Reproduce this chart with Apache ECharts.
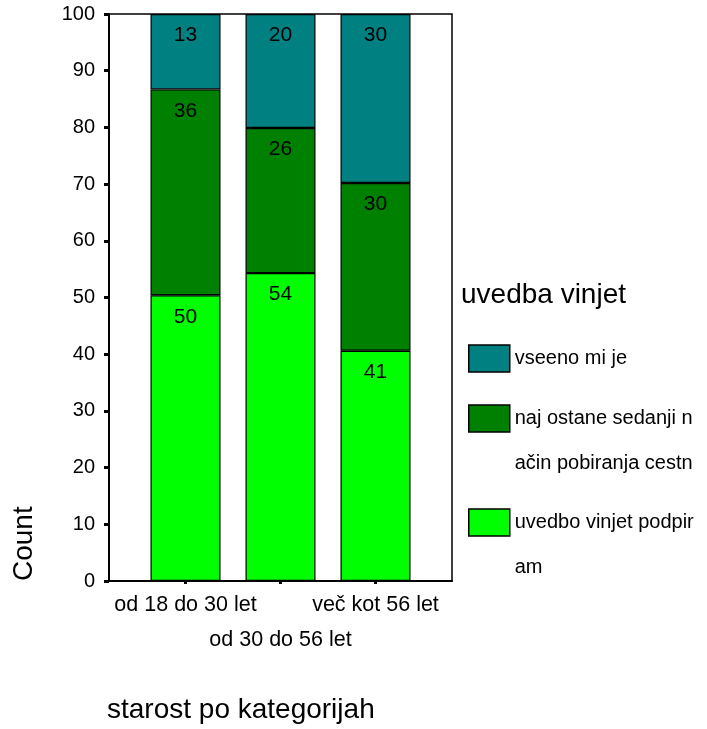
<!DOCTYPE html>
<html>
<head>
<meta charset="utf-8">
<script src="https://cdn.jsdelivr.net/npm/echarts@6/dist/echarts.min.js"></script>
<style>
  html, body { margin: 0; padding: 0; background: #fff; }
  #chart { width: 707px; height: 729px; }
</style>
</head>
<body>
<div id="chart"></div>
<script>
// starost po kategorijah -> deleži (%)
var categories = ['od 18 do 30 let', 'od 30 do 56 let', 'več kot 56 let'];
var podpiram = [50.4, 54.3, 40.6];   // uvedbo vinjet podpiram
var sedanji = [36.3, 25.6, 29.6];    // naj ostane sedanji način
var vseeno = [13.3, 20.1, 29.8];     // vseeno mi je
var yTicks = [0, 10, 20, 30, 40, 50, 60, 70, 80, 90, 100];

var names = ['vseeno mi je', 'naj ostane sedanji način pobiranja cestnine', 'uvedbo vinjet podpiram'];
var legendText = ['vseeno mi je', 'naj ostane sedanji n\način pobiranja cestn', 'uvedbo vinjet podpir\nam'];
var colors = ['#008080', '#008000', '#00ff00'];

var font = 'Liberation Sans, Arial, sans-serif';
var myChart = echarts.init(document.getElementById('chart'));

function barSeries(name, data, color) {
    return {
        name: name,
        type: 'bar',
        stack: 'vse',
        xAxisIndex: 1,
        yAxisIndex: 1,
        barWidth: 70,
        data: data,
        itemStyle: { color: color, borderColor: '#000', borderWidth: 1.2 },
        label: {
            show: true,
            position: 'insideTop',
            distance: 11,
            color: '#000',
            fontFamily: font,
            fontSize: 21,
            formatter: function (p) { return Math.round(p.value); }
        },
        emphasis: { disabled: true }
    };
}

// two-line legend labels: blank first line so the first real line sits next to the box
function oneLegend(i, top, twoLines) {
    return {
        data: [names[i]],
        left: 468,
        top: top,
        padding: 0,
        icon: 'rect',
        itemWidth: 41,
        itemHeight: 27,
        itemGap: 0,
        textGap: 1,
        selectedMode: false,
        itemStyle: { borderColor: '#000', borderWidth: 1.5 },
        formatter: function () { return twoLines ? '\n' + legendText[i] : legendText[i]; },
        textStyle: {
            fontFamily: font,
            fontSize: 20,
            color: '#000',
            lineHeight: 45
        }
    };
}

var option = {
    animation: false,
    backgroundColor: '#fff',
    title: [
        {
            text: 'uvedba vinjet',
            left: 461, top: 281, padding: 0,
            textStyle: { fontFamily: font, fontSize: 28, fontWeight: 'normal', color: '#000' }
        },
        {
            text: 'starost po kategorijah',
            left: 107, top: 696, padding: 0,
            textStyle: { fontFamily: font, fontSize: 28, fontWeight: 'normal', color: '#000' }
        }
    ],
    graphic: [{
        type: 'text',
        x: 10, y: 581,
        rotation: Math.PI / 2,
        style: { text: 'Count', fontFamily: font, fontSize: 28, fill: '#000' }
    }],
    legend: [
        oneLegend(0, 336, false),
        oneLegend(1, 351, true),
        oneLegend(2, 455, true)
    ],
    grid: [
        { left: 109, top: 14, width: 343, height: 567, show: true, borderColor: '#000', borderWidth: 1.5 },
        { left: 138, top: 14, width: 285, height: 567 }
    ],
    xAxis: [
        {
            type: 'value', gridIndex: 0, min: 0, max: 1,
            axisLine: { show: true, lineStyle: { color: '#000', width: 2 } },
            axisTick: { show: false }, axisLabel: { show: false }, splitLine: { show: false }
        },
        {
            type: 'category', gridIndex: 1, data: categories,
            axisLine: { show: false },
            axisTick: { show: true, alignWithLabel: true, length: 3, lineStyle: { color: '#000', width: 3 } },
            axisLabel: {
                interval: 0,
                margin: 7,
                fontFamily: font, fontSize: 21.5, color: '#000', lineHeight: 35,
                formatter: function (v, i) { return i % 2 ? '\n' + v : v; }
            }
        }
    ],
    yAxis: [
        {
            type: 'value', gridIndex: 0, min: 0, max: 100, interval: 10,
            axisLine: { show: true, lineStyle: { color: '#000', width: 2 } },
            axisTick: { show: true, length: 5, lineStyle: { color: '#000', width: 3 } },
            axisLabel: {
                margin: 14, fontFamily: font, fontSize: 20, color: '#000',
                formatter: function (v) { return yTicks.indexOf(v) >= 0 ? v : ''; }
            },
            splitLine: { show: false }
        },
        {
            type: 'value', gridIndex: 1, min: 0, max: 100,
            show: false, splitLine: { show: false }
        }
    ],
    series: [
        barSeries(names[2], podpiram, colors[2]),
        barSeries(names[1], sedanji, colors[1]),
        barSeries(names[0], vseeno, colors[0])
    ]
};

myChart.setOption(option);
</script>
</body>
</html>
